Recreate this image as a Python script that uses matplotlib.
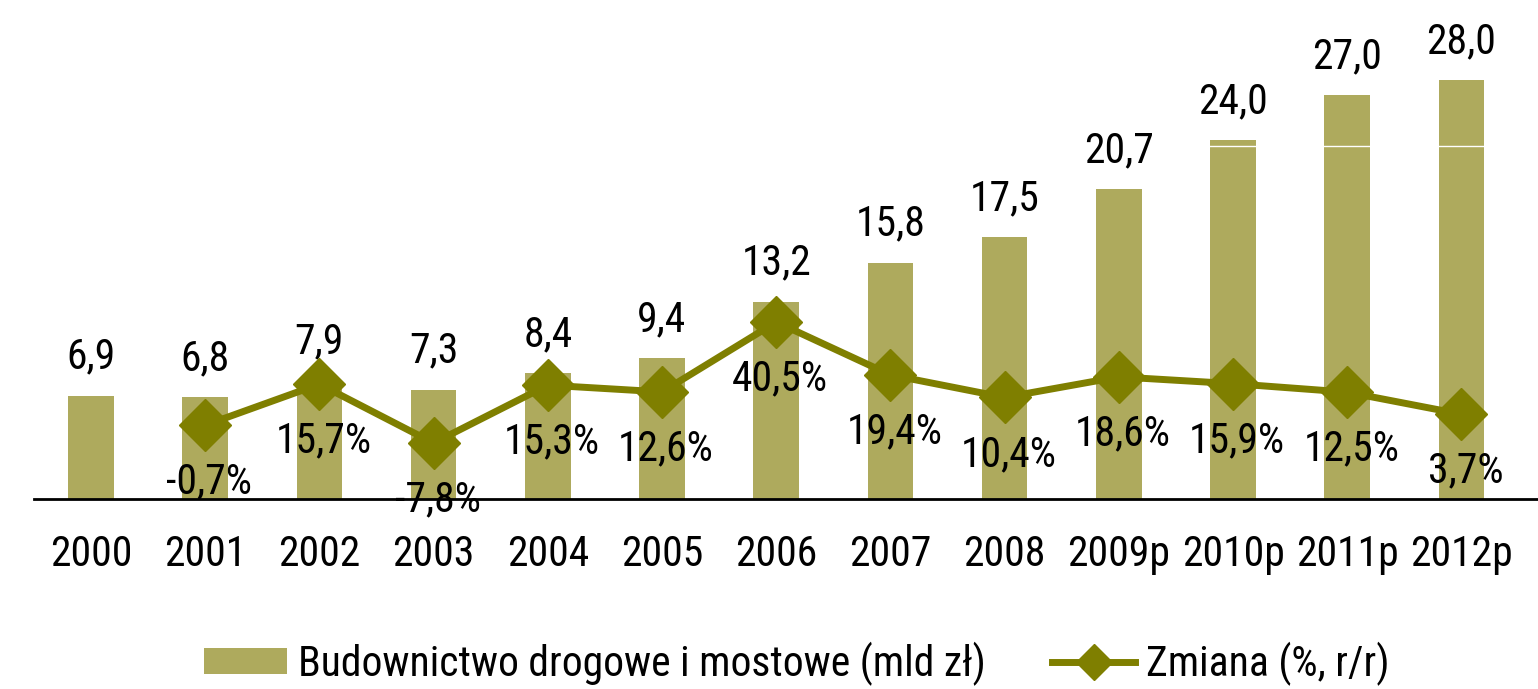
import matplotlib

matplotlib.use("Agg")
import matplotlib.pyplot as plt
from matplotlib.lines import Line2D
from matplotlib.patches import Patch

plt.rcParams["font.family"] = ["Roboto Condensed", "Open Sans Condensed",
                               "PT Sans Narrow", "Archivo Narrow",
                               "Liberation Sans Narrow", "DejaVu Sans"]

YEARS = ["2000", "2001", "2002", "2003", "2004", "2005", "2006",
         "2007", "2008", "2009p", "2010p", "2011p", "2012p"]
VALUES = [6.9, 6.8, 7.9, 7.3, 8.4, 9.4, 13.2, 15.8, 17.5, 20.7, 24.0, 27.0, 28.0]
CHANGE = [-0.7, 15.7, -7.8, 15.3, 12.6, 40.5, 19.4, 10.4, 18.6, 15.9, 12.5, 3.7]

BAR_COLOR = "#aeaa5d"
LINE_COLOR = "#7f7f00"
FS = 30

fig = plt.figure(figsize=(15.38, 6.89), dpi=100)
ax = fig.add_axes([0.022, 0.2758, 0.978, 0.6371])
x = list(range(len(YEARS)))

ax.bar(x, VALUES, width=0.4, color=BAR_COLOR, zorder=2)
# thin white line across the tallest bars
ax.axhline(23.6, color="white", lw=1, zorder=3)
for xi, v in zip(x, VALUES):
    ax.annotate(f"{v:.1f}".replace(".", ","), (xi, v), xytext=(0, 18),
                textcoords="offset pixels", ha="center", va="bottom",
                fontsize=FS)

ax.set_xlim(-0.5, 12.67)
ax.set_ylim(0, 29.35)
ax.set_yticks([])
ax.set_xticks(x)
ax.set_xticklabels(YEARS, fontsize=FS)
ax.tick_params(axis="x", length=0, pad=25)
for s in ["top", "right", "left"]:
    ax.spines[s].set_visible(False)
ax.spines["bottom"].set_linewidth(2)
ax.spines["bottom"].set_color("black")
ax.spines["bottom"].set_zorder(5)

ax2 = ax.twinx()
ax2.plot(x[1:], CHANGE, color=LINE_COLOR, lw=5, marker="D", markersize=26,
         zorder=4)
for xi, c in zip(x[1:], CHANGE):
    ax2.annotate(f"{c:.1f}%".replace(".", ","), (xi, c), xytext=(4, -57),
                 textcoords="offset pixels", ha="center", va="center",
                 fontsize=FS)
ax2.set_ylim(-30.14, 145.1)
ax2.set_yticks([])
for s in ax2.spines.values():
    s.set_visible(False)

handles = [
    Patch(facecolor=BAR_COLOR, label="Budownictwo drogowe i mostowe (mld zł)"),
    Line2D([0], [0], color=LINE_COLOR, lw=5, marker="D", markersize=18,
           label="Zmiana (%, r/r)"),
]
fig.legend(handles=handles, loc="center", bbox_to_anchor=(0.518, 0.037),
           ncol=2, frameon=False, fontsize=FS, handlelength=2.0,
           handleheight=0.6, columnspacing=1.6, handletextpad=0.25)

fig.savefig("out.png")
